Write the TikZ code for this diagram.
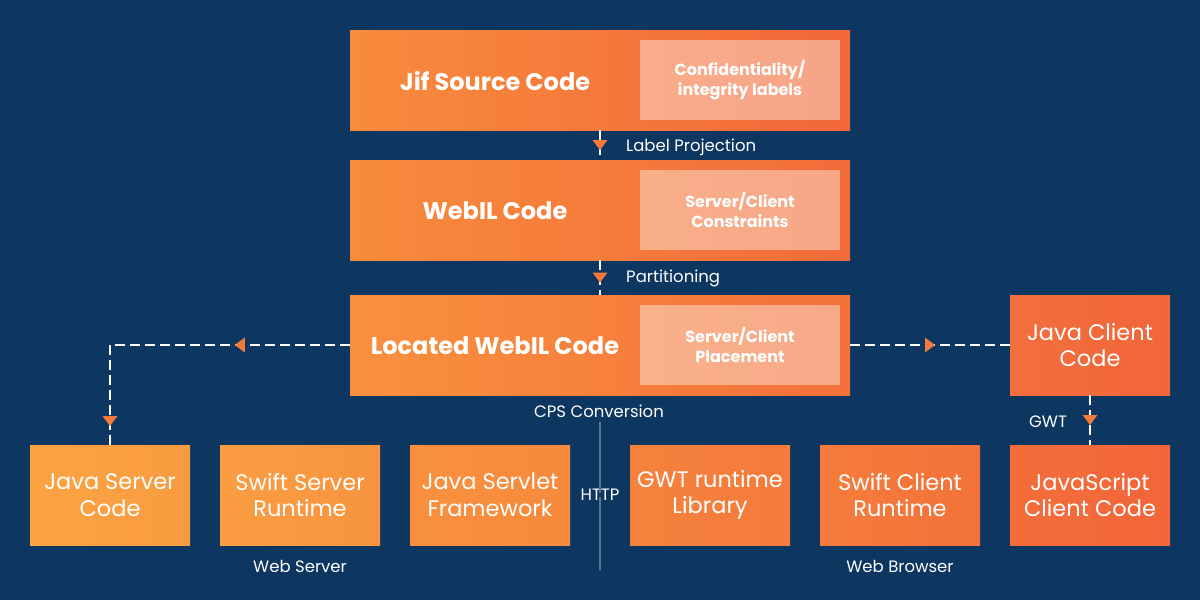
\documentclass[tikz,border=0pt]{standalone}
\usepackage{fontspec}
\setmainfont{Poppins}
\usetikzlibrary{decorations.markings}
\definecolor{bg}{HTML}{0D3661}
\definecolor{tri}{HTML}{F47A3B}
\definecolor{vline}{HTML}{5D7593}
\tikzset{
  mainlbl/.style={text=white, font=\fontsize{24}{28}\selectfont\bfseries, inner sep=0pt},
  innerbox/.style={fill=white, fill opacity=0.4, text opacity=1, text=white, minimum width=200pt, minimum height=80pt, inner sep=0pt, align=center, font=\fontsize{16}{20}\selectfont\bfseries},
  smallbox/.style={minimum width=160pt, minimum height=100pt, inner sep=0pt, align=center, text=white, font=\fontsize{22.5}{26.5}\selectfont},
  lbl/.style={text=white, font=\fontsize{16.5}{19}\selectfont, inner sep=0pt},
  flow/.style={draw=white, line width=2pt, dash pattern=on 10pt off 5pt},
  tmark/.style={postaction={decorate, decoration={markings, mark=at position #1 with {\fill[tri] (-5pt,7.5pt) -- (5pt,0pt) -- (-5pt,-7.5pt) -- cycle;}}}}
}
\begin{document}
\begin{tikzpicture}[x=1pt,y=-1pt]
\fill[bg] (0,0) rectangle (1200,600);
\useasboundingbox (0,0) rectangle (1200,600);

% big boxes
\shade[left color={rgb,255:red,248;green,139;blue,60}, right color={rgb,255:red,242;green,103;blue,58}] (350,30) rectangle (850,130);
\node[inner sep=0pt, minimum width=500pt, minimum height=100pt] (jif) at (600,80) {};
\node[mainlbl] (jift) at (495,81) {Jif Source Code};
\node[innerbox] (conf) at (740,80) {Confidentiality/\\integrity labels};

\shade[left color={rgb,255:red,248;green,139;blue,60}, right color={rgb,255:red,242;green,108;blue,58}] (350,160) rectangle (850,260);
\node[inner sep=0pt, minimum width=500pt, minimum height=100pt] (web) at (600,210) {};
\node[mainlbl] (webt) at (495,211) {WebIL Code};
\node[innerbox] (cons) at (740,210) {Server/Client\\Constraints};

\shade[left color={rgb,255:red,249;green,145;blue,62}, right color={rgb,255:red,243;green,112;blue,58}] (350,295) rectangle (850,395);
\node[inner sep=0pt, minimum width=500pt, minimum height=100pt] (loc) at (600,345) {};
\node[mainlbl] (loct) at (495,346) {Located WebIL Code};
\node[innerbox] (plac) at (740,345) {Server/Client\\Placement};

% java client code
\node[smallbox, left color={rgb,255:red,243;green,111;blue,61}, right color={rgb,255:red,241;green,101;blue,58}] (jcc) at (1090,345) {Java Client\\Code};

% bottom row
\node[smallbox, left color={rgb,255:red,251;green,164;blue,67}, right color={rgb,255:red,249;green,155;blue,64}] (jsc) at (110,495) {Java Server\\Code};
\node[smallbox, left color={rgb,255:red,250;green,157;blue,65}, right color={rgb,255:red,248;green,148;blue,64}] (ssr) at (300,495) {Swift Server\\Runtime};
\node[smallbox, left color={rgb,255:red,248;green,144;blue,62}, right color={rgb,255:red,247;green,138;blue,61}] (jsf) at (490,495) {Java Servlet\\Framework};
\node[smallbox, left color={rgb,255:red,245;green,130;blue,60}, right color={rgb,255:red,245;green,122;blue,59}] (gwt) at (710,495) {GWT runtime\\Library};
\node[smallbox, left color={rgb,255:red,245;green,124;blue,59}, right color={rgb,255:red,244;green,114;blue,58}] (scr) at (900,495) {Swift Client\\Runtime};
\node[smallbox, left color={rgb,255:red,243;green,110;blue,59}, right color={rgb,255:red,242;green,101;blue,58}] (jscc) at (1090,495) {JavaScript\\Client Code};

% labels
\node[lbl, anchor=west] (lp) at (626,147) {Label Projection};
\node[lbl, anchor=west] (pt) at (626,278) {Partitioning};
\node[lbl] (cps) at (599,411) {CPS Conversion};
\node[lbl] (http) at (600,495) {HTTP};
\node[lbl] (gwtl) at (1048,422) {GWT};
\node[lbl] (wsrv) at (300,566) {Web Server};
\node[lbl] (wbr) at (900,566) {Web Browser};

% http divider
\coordinate (vtop) at (600,422);
\coordinate (vbot) at (600,570);
\draw[vline, line width=1.2pt] (vtop) -- ([yshift=-4pt]http.north);
\draw[vline, line width=1.2pt] ([yshift=4pt]http.south) -- (vbot);

% connectors
\draw[flow, tmark=0.5] (jif.south) -- (web.north);
\draw[flow, tmark=0.5] (web.south) -- (loc.north);
\coordinate (corner) at (110,345);
\draw[flow, tmark=110pt] (loc.west) -- (corner);
\draw[flow, tmark=76pt] (corner) -- (jsc.north);
\draw[flow, tmark=0.5] (loc.east) -- (jcc.west);
\draw[flow, tmark=0.5] (jcc.south) -- (jscc.north);
\end{tikzpicture}
\end{document}
